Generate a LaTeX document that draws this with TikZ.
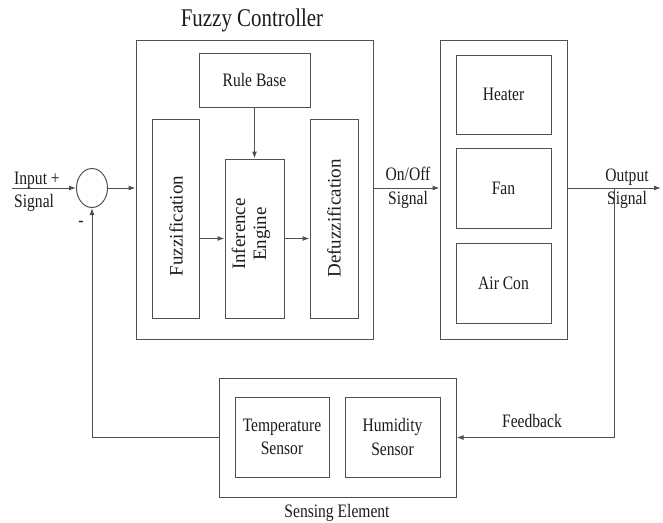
\documentclass[tikz,border=0pt]{standalone}
\usepackage{fontspec}
\setmainfont{Liberation Serif}
\newfontfamily\hf[FakeStretch=0.82]{Liberation Serif}
\usetikzlibrary{arrows.meta,shapes.geometric}
\definecolor{ln}{HTML}{505050}
\definecolor{tx}{HTML}{1c1c1c}
\tikzset{
  box/.style={draw=ln,line width=1pt,rectangle,inner sep=0pt},
  htext/.style={text=tx,font=\hf\fontsize{19}{23.5}\selectfont,align=center,inner sep=0pt},
  vtext/.style={text=tx,font=\fontsize{19}{21}\selectfont,align=center,rotate=90,inner sep=0pt},
  conn/.style={draw=ln,line width=1pt},
  arr/.style={conn,-{Latex[length=7pt,width=5pt]}}
}
\begin{document}
\begin{tikzpicture}[x=1pt,y=-1pt]
\useasboundingbox (0,0) rectangle (663,522);
% fuzzy controller
\node[box,minimum width=237,minimum height=299] (fc) at (254.5,189.5) {};
\node[htext,font=\hf\fontsize{25.5}{28}\selectfont] (fctitle) at (252,20) {Fuzzy Controller};
\node[box,minimum width=111,minimum height=54] (rule) at (254.5,80) {};
\node[htext] (rulet) at (rule) {Rule Base};
\node[box,minimum width=47,minimum height=199] (fuzz) at (175.5,218.5) {};
\node[vtext] (fuzzt) at (176,226) {Fuzzification};
\node[box,minimum width=59,minimum height=159] (inf) at (254.5,238.5) {};
\node[vtext] (inft) at (251,234) {Inference\\Engine};
\node[box,minimum width=48,minimum height=199] (defuzz) at (334,218.5) {};
\node[vtext] (defuzzt) at (defuzz) {Defuzzification};
% actuators
\node[box,minimum width=127,minimum height=299] (act) at (503.5,189.5) {};
\node[box,minimum width=95,minimum height=79] (heat) at (503.5,94.5) {};
\node[htext] (heatt) at (heat) {Heater};
\node[box,minimum width=95,minimum height=80] (fan) at (503.5,188) {};
\node[htext] (fant) at (fan) {Fan};
\node[box,minimum width=95,minimum height=80] (ac) at (503.5,283) {};
\node[htext] (act2) at (ac) {Air Con};
% sensing
\node[box,minimum width=237,minimum height=119] (sense) at (337.5,437.5) {};
\node[box,minimum width=94,minimum height=80] (temp) at (282,437) {};
\node[htext] (tempt) at (temp) {Temperature\\Sensor};
\node[box,minimum width=95,minimum height=80] (hum) at (392.5,437) {};
\node[htext] (humt) at (hum) {Humidity\\Sensor};
\node[htext] (senset) at (337,513) {Sensing Element};
% summing junction
\node[draw=ln,line width=1pt,ellipse,minimum width=31,minimum height=39,inner sep=0pt] (sum) at (92,188) {};
% labels
\node[htext,anchor=west] (inlab1) at (14,180) {Input +};
\node[htext,anchor=west] (inlab2) at (14,203) {Signal};
\node[htext] (minus) at (81,224) {-};
\node[htext] (onoff) at (408,188) {On/Off\\Signal};
\node[htext] (outlab) at (627,189) {Output\\Signal};
\node[htext] (fblab) at (532,421) {Feedback};
% connectors
\coordinate (inp) at (12,188);
\coordinate (outp) at (661,188);
\coordinate (fbtap) at (614,188);
\draw[arr] (inp) -- (sum.west);
\draw[arr] (sum.east) -- (sum.east -| fc.west);
\draw[arr] (rule.south) -- (inf.north);
\draw[arr] (fuzz.east |- inf.center) -- (inf.west);
\draw[arr] (inf.east) -- (inf.east -| defuzz.west);
\draw[arr] (sum.east -| fc.east) -- (sum.east -| act.west);
\draw[arr] (sum.east -| act.east) -- (outp);
\draw[arr] (fbtap) |- (sense.east);
\draw[arr] (sense.west) -| (sum.south);
\end{tikzpicture}
\end{document}
